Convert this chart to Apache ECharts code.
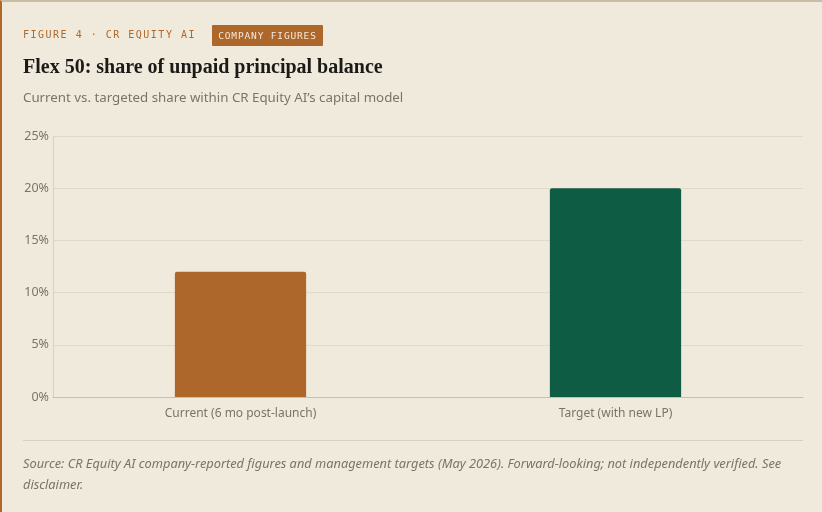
<!DOCTYPE html>
<html>
<head>
<meta charset="utf-8">
<script src="https://cdn.jsdelivr.net/npm/echarts@6/dist/echarts.min.js"></script>
<style>
  html, body { margin: 0; padding: 0; background: #f0eadd; }
  #wrap {
    position: relative; width: 822px; height: 512px; box-sizing: border-box;
    border-top: 2px solid #c9bda3; border-left: 2px solid #b0672a;
    background: #f0eadd; overflow: hidden;
  }
  #chart { position: absolute; left: -2px; top: -2px; width: 822px; height: 512px; }
  .txt { position: absolute; white-space: nowrap; }
  #kicker { left: 21px; top: 27px; font: 10px "DejaVu Sans Mono", monospace; letter-spacing: 1.5px; color: #b0672a; line-height: 12px; }
  #badge { left: 210px; top: 23px; width: 111px; height: 21px; background: #ae672a; border-radius: 1px;
           font: 9.5px "DejaVu Sans Mono", monospace; letter-spacing: 0.85px; color: #f3e9dc;
           line-height: 21px; text-align: center; }
  #title { left: 21px; top: 52px; font: bold 20px "Liberation Serif", "DejaVu Serif", serif; color: #1c1a17; line-height: 24px; }
  #sub { left: 21px; top: 86px; font: 13.3px "Noto Sans", "Open Sans", sans-serif; color: #7a7366; line-height: 18px; }
  #rule { position: absolute; left: 21px; top: 438px; width: 780px; height: 1px; background: #d8cfbf; }
  #src { left: 21px; top: 451px; width: 775px; white-space: normal; font: italic 12.8px "Noto Sans", "Open Sans", sans-serif; color: #7a7366; line-height: 20.5px; }
</style>
</head>
<body>
<div id="wrap">
  <div id="chart"></div>
  <div class="txt" id="kicker">FIGURE 4 · CR EQUITY AI</div>
  <div class="txt" id="badge">COMPANY FIGURES</div>
  <div class="txt" id="title">Flex 50: share of unpaid principal balance</div>
  <div class="txt" id="sub">Current vs. targeted share within CR Equity AI’s capital model</div>
  <div id="rule"></div>
  <div class="txt" id="src">Source: CR Equity AI company-reported figures and management targets (May 2026). Forward-looking; not independently verified. See disclaimer.</div>
</div>
<script>
// Flex 50 share of unpaid principal balance
var categories = ['Current (6 mo post-launch)', 'Target (with new LP)'];
var shareValues = [12, 20];
var barColors = ['#ae672a', '#0e5c43'];
var yTicks = [0, 5, 10, 15, 20, 25];

var sans = '"Noto Sans", "Open Sans", sans-serif';

var chart = echarts.init(document.getElementById('chart'));
var option = {
    animation: false,
    backgroundColor: 'transparent',
    grid: { left: 53, right: 19, top: 136, bottom: 115 },
    xAxis: {
        type: 'category',
        data: categories,
        axisLine: { lineStyle: { color: '#c8bfae', width: 1 } },
        axisTick: { show: false },
        axisLabel: { color: '#7a7366', fontFamily: sans, fontSize: 12, margin: 11 }
    },
    yAxis: {
        type: 'value',
        min: yTicks[0],
        max: yTicks[yTicks.length - 1],
        interval: 5,
        axisLine: { show: true, lineStyle: { color: '#d9d0c0' } },
        axisTick: { show: false },
        splitLine: { lineStyle: { color: '#e1d9ca' } },
        axisLabel: { color: '#7a7366', fontFamily: sans, fontSize: 12.5, margin: 4,
            formatter: function (v) { return v + '%'; } }
    },
    series: [{
        type: 'bar',
        barWidth: '35%',
        data: shareValues.map(function (v, i) {
            return { value: v, itemStyle: { color: barColors[i], borderRadius: [2, 2, 0, 0] } };
        })
    }]
};
chart.setOption(option);
</script>
</body>
</html>
